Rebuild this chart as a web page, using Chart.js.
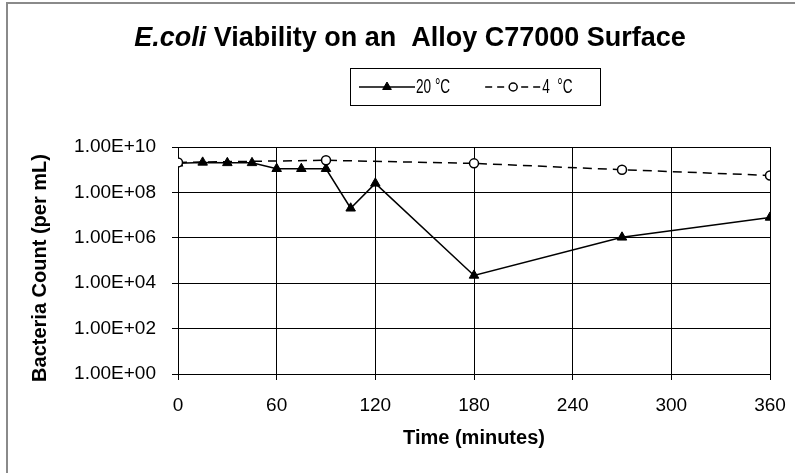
<!DOCTYPE html>
<html><head><meta charset="utf-8">
<script src="https://cdn.jsdelivr.net/npm/chart.js@4/dist/chart.umd.min.js"></script>
<style>html,body{margin:0;padding:0;background:#fff}#wrap{width:795px;height:473px;position:relative}</style>
</head><body><div id="wrap"><canvas id="c" width="795" height="473"></canvas></div>
<script>
// ---- data ----
const timesWarm = [0, 15, 30, 45, 60, 75, 90, 105, 120, 180, 270, 360];
const countsWarm = [1.9e9, 2.1e9, 2.0e9, 2.0e9, 1.1e9, 1.1e9, 1.1e9, 2.0e7, 2.5e8, 2.2e4, 1.05e6, 7.9e6];
const timesCold = [0, 90, 180, 270, 360];
const countsCold = [2.1e9, 2.6e9, 1.9e9, 1.0e9, 5.6e8];
const seriesLabels = ['20 °C', '4  °C'];
const xTickValues = [0, 60, 120, 180, 240, 300, 360];
const yTickExponents = [0, 2, 4, 6, 8, 10];
const titleItalicPart = 'E.coli';
const titleRestPart = ' Viability on an  Alloy C77000 Surface';
const xAxisTitle = 'Time (minutes)';
const yAxisTitle = 'Bacteria Count (per mL)';

const FONT = '"Liberation Sans", Arial, sans-serif';

function pairs(xs, ys) { return xs.map((x, i) => ({ x: x, y: ys[i] })); }
function sci(v) {
  const e = Math.round(Math.log10(v));
  return '1.00E' + (e >= 0 ? '+' : '-') + String(Math.abs(e)).padStart(2, '0');
}

const decor = {
  id: 'decor',
  beforeDraw(chart) {
    const ctx = chart.ctx;
    ctx.save();
    ctx.fillStyle = '#fff';
    ctx.fillRect(0, 0, chart.width, chart.height);
    ctx.strokeStyle = '#8a8a8a';
    ctx.lineWidth = 2;
    ctx.beginPath();
    ctx.moveTo(7, 473); ctx.lineTo(7, 3); ctx.lineTo(795, 3);
    ctx.stroke();
    ctx.restore();
  },
  afterDraw(chart) {
    const ctx = chart.ctx;
    const area = chart.chartArea;
    ctx.save();
    ctx.fillStyle = '#000';
    ctx.textBaseline = 'alphabetic';
    ctx.textAlign = 'left';
    // chart title
    const fI = 'italic bold 27px ' + FONT, fB = 'bold 27px ' + FONT;
    ctx.font = fI; const wI = ctx.measureText(titleItalicPart).width;
    ctx.font = fB; const wR = ctx.measureText(titleRestPart).width;
    let tx = 410 - (wI + wR) / 2;
    ctx.font = fI; ctx.fillText(titleItalicPart, tx, 46);
    ctx.font = fB; ctx.fillText(titleRestPart, tx + wI, 46);

    // legend
    ctx.strokeStyle = '#000'; ctx.lineWidth = 1;
    ctx.strokeRect(350.5, 68.5, 250, 37);
    const ly = 87;
    let lx = 359;
    chart.data.datasets.forEach((ds, i) => {
      const len = 56;
      ctx.save();
      ctx.strokeStyle = ds.borderColor; ctx.lineWidth = ds.borderWidth;
      ctx.setLineDash(ds.borderDash ? [7, 5] : []);
      ctx.beginPath(); ctx.moveTo(lx, ly); ctx.lineTo(lx + len, ly); ctx.stroke();
      ctx.setLineDash([]);
      ctx.fillStyle = ds.pointBackgroundColor; ctx.strokeStyle = ds.pointBorderColor;
      ctx.lineWidth = ds.pointBorderWidth;
      Chart.helpers.drawPoint(ctx, { pointStyle: ds.pointStyle, radius: ds.pointRadius - 0.5, rotation: 0, borderWidth: ds.pointBorderWidth }, lx + len / 2, ly);
      ctx.restore();
      const sx = 0.68;
      ctx.save();
      ctx.font = '20px ' + FONT; ctx.fillStyle = '#000'; ctx.textBaseline = 'middle';
      const tw = ctx.measureText(ds.label).width * sx;
      ctx.translate(lx + len + 1, ly);
      ctx.scale(sx, 1);
      ctx.fillText(ds.label, 0, 0);
      ctx.restore();
      lx = lx + len + 1 + tw + 35;
    });

    // axis titles
    ctx.font = 'bold 20px ' + FONT;
    ctx.textAlign = 'center'; ctx.textBaseline = 'middle';
    ctx.fillText(xAxisTitle, (area.left + area.right) / 2, 438);
    ctx.save();
    ctx.translate(40, 268);
    ctx.rotate(-Math.PI / 2);
    ctx.fillText(yAxisTitle, 0, 0);
    ctx.restore();
    ctx.restore();
  }
};

new Chart(document.getElementById('c'), {
  type: 'line',
  data: {
    datasets: [
      {
        label: seriesLabels[0],
        data: pairs(timesWarm, countsWarm),
        borderColor: '#000', borderWidth: 1.5,
        pointStyle: 'triangle', pointRadius: 5.5,
        pointBackgroundColor: '#000', pointBorderColor: '#000', pointBorderWidth: 1,
        tension: 0, order: 2
      },
      {
        label: seriesLabels[1],
        data: pairs(timesCold, countsCold),
        borderColor: '#000', borderWidth: 1.5, borderDash: [9, 6],
        pointStyle: 'circle', pointRadius: 4.5,
        pointBackgroundColor: '#fff', pointBorderColor: '#000', pointBorderWidth: 1.5,
        tension: 0, order: 1
      }
    ]
  },
  options: {
    responsive: false,
    animation: false,
    layout: { padding: { top: 147, right: 25, bottom: 0, left: 0 } },
    plugins: { legend: { display: false }, title: { display: false }, tooltip: { enabled: false } },
    scales: {
      x: {
        type: 'linear', min: 0, max: 360,
        afterBuildTicks: s => { s.ticks = xTickValues.map(v => ({ value: v })); },
        afterFit: s => { s.height = 99; s.paddingLeft = 0; s.paddingRight = 0; },
        ticks: { color: '#000', font: { family: FONT, size: 19 }, padding: 14, maxRotation: 0, autoSkip: false },
        grid: { color: '#000', lineWidth: 1, tickLength: 6, drawTicks: true },
        border: { color: '#000', width: 1 }
      },
      y: {
        type: 'logarithmic', min: 1, max: 1e10,
        afterBuildTicks: s => { s.ticks = yTickExponents.map(e => ({ value: Math.pow(10, e) })); },
        afterFit: s => { s.width = 178; s.paddingTop = 0; s.paddingBottom = 0; },
        ticks: { color: '#000', font: { family: FONT, size: 19 }, padding: 16, autoSkip: false, callback: v => sci(v) },
        grid: { color: '#000', lineWidth: 1, tickLength: 6, drawTicks: true },
        border: { color: '#000', width: 1 }
      }
    }
  },
  plugins: [decor]
});
</script>
</body></html>
